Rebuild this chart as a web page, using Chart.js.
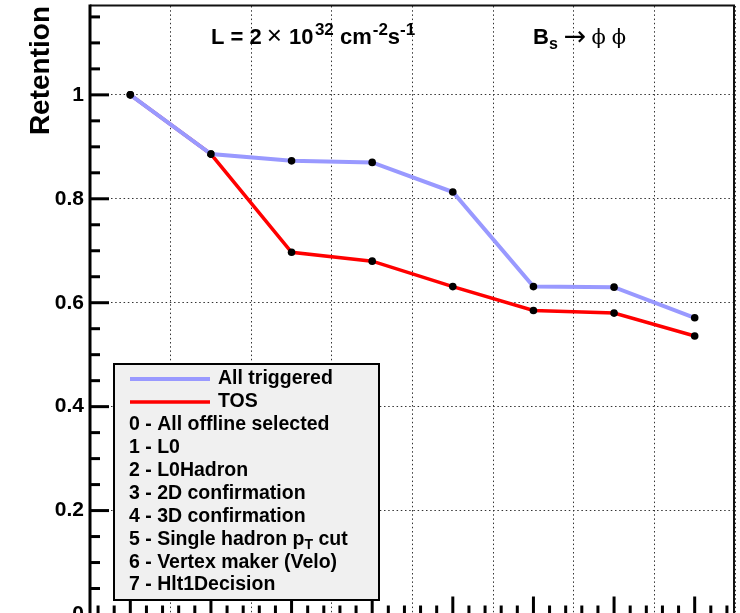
<!DOCTYPE html>
<html><head><meta charset="utf-8">
<script src="https://cdn.jsdelivr.net/npm/chart.js@4/dist/chart.umd.min.js"></script>
<style>
html,body{margin:0;padding:0;background:#fff;overflow:hidden;width:740px;height:613px}
#wrap{position:relative;width:740px;height:613px;overflow:hidden;background:#fff}
canvas{display:block}
</style></head><body>
<div id="wrap"><canvas id="c" width="740" height="630" style="width:740px;height:630px"></canvas></div>
<script>
// ---- data ----
const steps = [0, 1, 2, 3, 4, 5, 6, 7];
const stepNames = ["All offline selected", "L0", "L0Hadron", "2D confirmation", "3D confirmation", "Single hadron p_{T} cut", "Vertex maker (Velo)", "Hlt1Decision"];
const allTriggered = [1.000, 0.886, 0.873, 0.870, 0.813, 0.631, 0.630, 0.571];
const tos = [1.000, 0.886, 0.697, 0.680, 0.631, 0.585, 0.580, 0.536];
const seriesNames = ["All triggered", "TOS"];
const yTickLabels = ["0", "0.2", "0.4", "0.6", "0.8", "1"];
const yAxisTitle = "Retention";

const SANS = '"Liberation Sans", Arial, Helvetica, sans-serif';
const SERIF = '"DejaVu Serif", "Liberation Serif", serif';
const SYM = '"DejaVu Sans", "Liberation Sans", sans-serif';
const BLUE = '#9999ff', RED = '#ff0000';

function drawRich(ctx, text, x, y, size, bold) {
  // supports _{..} and ^{..}
  const re = /([_^])\{([^}]*)\}/g;
  let last = 0, m, cx = x;
  const w = bold ? 'bold ' : '';
  const seg = (t, s, dy) => { ctx.font = w + s + 'px ' + SANS; ctx.fillText(t, cx, y + dy); cx += ctx.measureText(t).width; };
  while ((m = re.exec(text))) {
    if (m.index > last) seg(text.slice(last, m.index), size, 0);
    if (m[1] === '_') seg(m[2], size * 0.72, size * 0.3); else seg(m[2], size * 0.72, -size * 0.42);
    last = re.lastIndex;
  }
  if (last < text.length) seg(text.slice(last), size, 0);
  return cx;
}

const rootDecor = {
  id: 'rootDecor',
  afterDatasetsDraw(chart) {
    const {ctx, chartArea: a, scales: {x, y}} = chart;
    ctx.save();
    // frame
    ctx.strokeStyle = '#111';
    ctx.lineWidth = 2;
    ctx.beginPath(); ctx.moveTo(a.left, a.top - 0.5); ctx.lineTo(a.right - 1, a.top - 0.5); ctx.lineTo(a.right - 1, a.bottom); ctx.stroke();
    ctx.strokeStyle = '#000';
    ctx.lineWidth = 3;
    ctx.beginPath(); ctx.moveTo(a.left, a.top - 1.5); ctx.lineTo(a.left, a.bottom); ctx.lineTo(a.right, a.bottom); ctx.stroke();
    // y ticks (inward)
    const yMinor = 0.05;
    for (let k = 0; k * yMinor <= y.max + 1e-9; k++) {
      const py = y.getPixelForValue(k * yMinor);
      const major = k % 4 === 0;
      ctx.beginPath(); ctx.moveTo(a.left, py); ctx.lineTo(a.left + (major ? 19 : 10), py); ctx.stroke();
    }
    // x ticks (inward)
    const xMinor = 0.2;
    for (let k = Math.ceil(x.min / xMinor - 1e-9); k * xMinor <= x.max + 1e-9; k++) {
      const px = x.getPixelForValue(k * xMinor);
      const major = k % 5 === 0;
      ctx.beginPath(); ctx.moveTo(px, a.bottom); ctx.lineTo(px, a.bottom - (major ? 18 : 9)); ctx.stroke();
    }
    // legend box
    const L = {l: 114, t: 364, r: 379, b: 600};
    ctx.fillStyle = '#f0f0f0';
    ctx.fillRect(L.l, L.t, L.r - L.l, L.b - L.t);
    ctx.strokeStyle = '#000'; ctx.lineWidth = 2;
    ctx.strokeRect(L.l, L.t, L.r - L.l, L.b - L.t);
    const rowH = 22.9, row0 = 379, fs = 19.5;
    ctx.fillStyle = '#000'; ctx.textBaseline = 'middle'; ctx.textAlign = 'left';
    const ds = chart.data.datasets;
    ds.forEach((d, i) => {
      const ry = row0 + i * rowH;
      ctx.strokeStyle = d.borderColor; ctx.lineWidth = d.borderWidth;
      ctx.beginPath(); ctx.moveTo(130, ry); ctx.lineTo(210, ry); ctx.stroke();
      drawRich(ctx, d.label, 218, ry, fs, true);
    });
    steps.forEach((s, i) => {
      const ry = row0 + (i + 2) * rowH;
      drawRich(ctx, s + ' - ' + stepNames[i], 129, ry, fs, true);
    });
    ctx.restore();
  },
  afterDraw(chart) {
    const ctx = chart.ctx;
    ctx.save();
    ctx.fillStyle = '#000'; ctx.textBaseline = 'alphabetic'; ctx.textAlign = 'left';
    let cx = 211;
    const base = 44;
    const put = (t, font, dy, gap) => { ctx.font = font; ctx.fillText(t, cx, base + dy); cx += ctx.measureText(t).width + (gap || 0); };
    put('L = 2', 'bold 22px ' + SANS, 0, 5);
    put('\u00D7', '26px ' + SANS, 0, 7);
    put('10', 'bold 22px ' + SANS, 0, 1.5);
    put('32', 'bold 17px ' + SANS, -9, 0);
    put(' cm', 'bold 22px ' + SANS, 0, 1);
    put('-2', 'bold 17px ' + SANS, -9, 0);
    put('s', 'bold 22px ' + SANS, 0, 0);
    put('-1', 'bold 17px ' + SANS, -9, 0);
    cx = 533;
    put('B', 'bold 22px ' + SANS, 0, 0);
    put('s', 'bold 16px ' + SANS, 5, 6);
    put('\u2192', '27px ' + SYM, 1, 5);
    put('\u03D5', '21px ' + SERIF, 0, 6);
    put('\u03D5', '21px ' + SERIF, 0, 0);
    ctx.restore();
  }
};

new Chart(document.getElementById('c'), {
  type: 'line',
  data: {
    datasets: [
      {label: seriesNames[0], data: steps.map((s, i) => ({x: s, y: allTriggered[i]})), borderColor: BLUE, borderWidth: 4,
       pointRadius: 3.8, pointBackgroundColor: '#000', pointBorderWidth: 0, tension: 0, order: 0},
      {label: seriesNames[1], data: steps.map((s, i) => ({x: s, y: tos[i]})), borderColor: RED, borderWidth: 3.5,
       pointRadius: 3.8, pointBackgroundColor: '#000', pointBorderWidth: 0, tension: 0, order: 1}
    ]
  },
  options: {
    responsive: false, animation: false, events: [],
    layout: {padding: {top: 6, right: 5, left: 0, bottom: 0}},
    plugins: {legend: {display: false}, tooltip: {enabled: false}},
    scales: {
      x: {
        type: 'linear', min: -0.5, max: 7.5,
        ticks: {display: false, stepSize: 1, includeBounds: false},
        grid: {color: '#333', lineWidth: 1, drawTicks: false},
        border: {display: false, dash: [1.5, 2.7]},
        afterFit: s => { s.height = 15.5; s.paddingLeft = 0; s.paddingRight = 0; }
      },
      y: {
        type: 'linear', min: 0, max: 1.171,
        ticks: {stepSize: 0.2, includeBounds: false, padding: 6, color: '#000',
                font: {family: SANS, size: 21, weight: 'bold'},
                callback: (v, i) => yTickLabels[i]},
        grid: {color: '#333', lineWidth: 1, drawTicks: false},
        border: {display: false, dash: [1.5, 2.7]},
        title: {display: true, text: yAxisTitle, align: 'end', color: '#000',
                font: {family: SANS, size: 28, weight: 'bold'}, padding: {top: 24.5, bottom: 0}},
        afterFit: s => { s.width = 90; s.paddingTop = 0; s.paddingBottom = 0; }
      }
    }
  },
  plugins: [rootDecor]
});
</script>
</body></html>
